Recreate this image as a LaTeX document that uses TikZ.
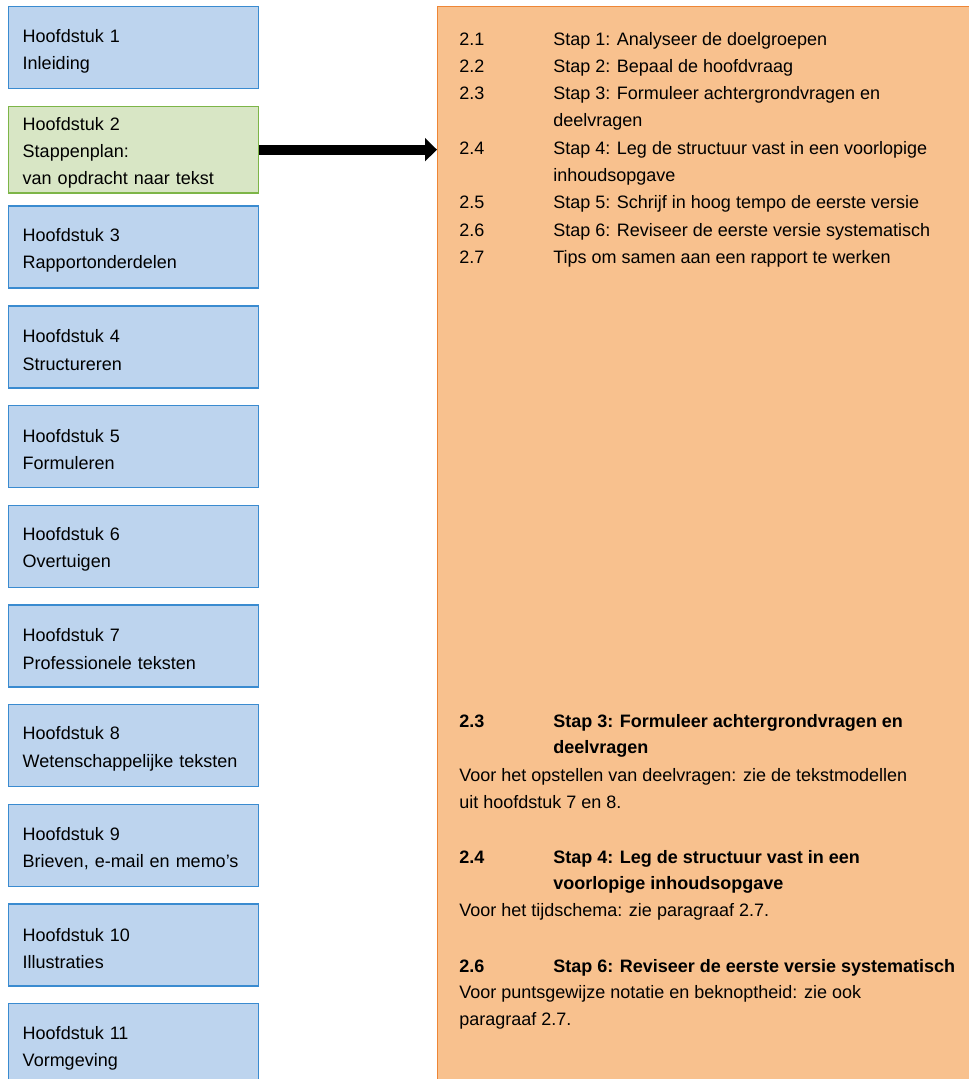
\documentclass[tikz,border=0pt]{standalone}
\usepackage{fontspec}
\setmainfont{Liberation Sans}
\usetikzlibrary{arrows.meta}
\definecolor{bluefill}{HTML}{BDD4EE}
\definecolor{blueline}{HTML}{3A8BD0}
\definecolor{greenfill}{HTML}{D8E6C5}
\definecolor{greenline}{HTML}{7DB548}
\definecolor{orangefill}{HTML}{F8C18E}
\definecolor{orangeline}{HTML}{EE8636}
\begin{document}
\begin{tikzpicture}[x=0.75pt,y=-0.75pt,
  chapbox/.style={draw=blueline, fill=bluefill, line width=1.1pt, anchor=north west,
    minimum width=187.5pt, minimum height=61.5pt, text width=166.5pt, inner xsep=10.5pt,
    align=left, font=\fontsize{13.5}{20.4}\selectfont,
    execute at begin node={\rule{0pt}{14.6pt}}},
  greenbox/.style={chapbox, draw=greenline, fill=greenfill},
  txt/.style={anchor=base west, inner sep=0pt, font=\fontsize{13.5}{20.4}\selectfont},
  btxt/.style={txt, font=\fontsize{13.5}{20.4}\selectfont\bfseries}]
\useasboundingbox (0,0) rectangle (969,1079);
\node[draw=orangeline, fill=orangefill, line width=1.1pt, anchor=north west,
  minimum width=450pt, minimum height=817.5pt, inner sep=0pt] (rbox) at (437,6) {};
\node[chapbox] (h1) at (8,6) {Hoofdstuk 1\\Inleiding};
\node[greenbox] (h2) at (8,105.7) {Hoofdstuk 2\\Stappenplan:\\van opdracht naar tekst};
\foreach \i/\t in {3/Rapportonderdelen, 4/Structureren, 5/Formuleren, 6/Overtuigen,
  7/Professionele teksten, 8/Wetenschappelijke teksten, 9/{Brieven, e-mail en memo’s},
  10/Illustraties, 11/Vormgeving}
  \node[chapbox] (h\i) at (8,{6+99.7*(\i-1)}) {Hoofdstuk \i\\\t};
\draw[line width=7.5pt, -{Triangle[length=9pt,width=17pt]}] (h2.east) -- (h2.east -| rbox.west);
% contents list
\node[txt] (n1) at (459,45) {2.1};   \node[txt] (s1) at (553,45) {Stap 1: Analyseer de doelgroepen};
\node[txt] (n2) at (459,72.3) {2.2}; \node[txt] (s2) at (553,72.3) {Stap 2: Bepaal de hoofdvraag};
\node[txt] (n3) at (459,99.6) {2.3}; \node[txt] (s3) at (553,99.6) {Stap 3: Formuleer achtergrondvragen en};
\node[txt] (s3b) at (553,126.9) {deelvragen};
\node[txt] (n4) at (459,154.2) {2.4}; \node[txt] (s4) at (553,154.2) {Stap 4: Leg de structuur vast in een voorlopige};
\node[txt] (s4b) at (553,181.5) {inhoudsopgave};
\node[txt] (n5) at (459,208.8) {2.5}; \node[txt] (s5) at (553,208.8) {Stap 5: Schrijf in hoog tempo de eerste versie};
\node[txt] (n6) at (459,236.1) {2.6}; \node[txt] (s6) at (553,236.1) {Stap 6: Reviseer de eerste versie systematisch};
\node[txt] (n7) at (459,263.4) {2.7}; \node[txt] (s7) at (553,263.4) {Tips om samen aan een rapport te werken};
% notes
\node[btxt] (b3) at (459,727) {2.3}; \node[btxt] (b3t) at (553,727) {Stap 3: Formuleer achtergrondvragen en};
\node[btxt] (b3u) at (553,753) {deelvragen};
\node[txt] (c3) at (459,781) {Voor het opstellen van deelvragen: zie de tekstmodellen};
\node[txt] (c3b) at (459,808) {uit hoofdstuk 7 en 8.};
\node[btxt] (b4) at (459,863) {2.4}; \node[btxt] (b4t) at (553,863) {Stap 4: Leg de structuur vast in een};
\node[btxt] (b4u) at (553,889) {voorlopige inhoudsopgave};
\node[txt] (c4) at (459,916) {Voor het tijdschema: zie paragraaf 2.7.};
\node[btxt] (b6) at (459,972) {2.6}; \node[btxt] (b6t) at (553,972) {Stap 6: Reviseer de eerste versie systematisch};
\node[txt] (c6) at (459,998) {Voor puntsgewijze notatie en beknoptheid: zie ook};
\node[txt] (c6b) at (459,1025) {paragraaf 2.7.};
\end{tikzpicture}
\end{document}
